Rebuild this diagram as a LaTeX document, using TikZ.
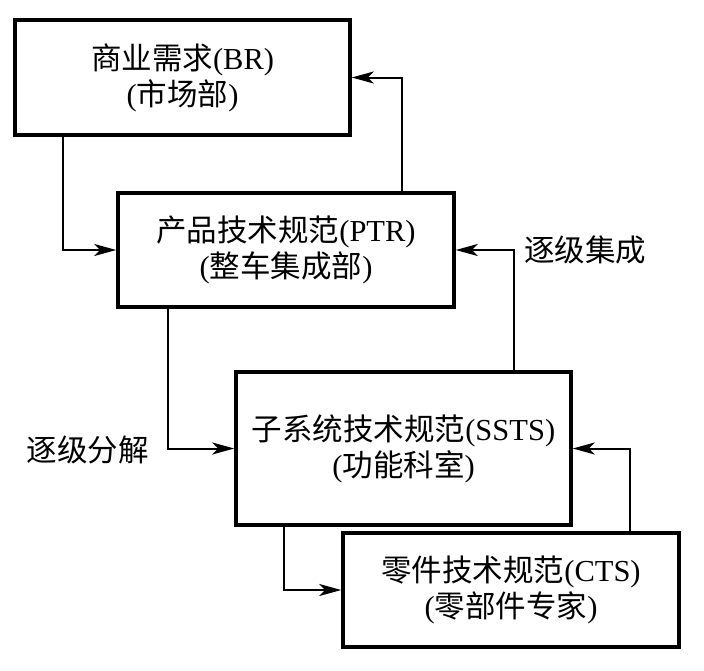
\documentclass[tikz,border=0pt]{standalone}
\usepackage{fontspec}
\setmainfont{Liberation Serif}
\newfontfamily\cjk{Noto Sans CJK SC}
\usetikzlibrary{arrows.meta}
\tikzset{
  box/.style={draw=black, line width=3.5pt, fill=white, minimum width=#1, align=center,
    font=\fontsize{30.5pt}{36pt}\selectfont, inner sep=0pt},
  conn/.style={line width=2pt, -{Stealth[length=22pt,width=12pt,inset=6pt]}},
  lbl/.style={font=\fontsize{30.5pt}{36pt}\selectfont, inner sep=0pt}
}
\begin{document}
\begin{tikzpicture}[x=1pt,y=-1pt]
\useasboundingbox (0,0) rectangle (704,670);
\node[box=335pt, minimum height=115pt] (BR) at (182.5,77.5) {{\cjk 商业需求}(BR)\\({\cjk 市场部})};
\node[box=336pt, minimum height=114pt] (PTR) at (286,250) {{\cjk 产品技术规范}(PTR)\\({\cjk 整车集成部})};
\node[box=335pt, minimum height=153pt] (SSTS) at (403.5,448.5) {{\cjk 子系统技术规范}(SSTS)\\({\cjk 功能科室})};
\node[box=336pt, minimum height=114pt] (CTS) at (511,590) {{\cjk 零件技术规范}(CTS)\\({\cjk 零部件专家})};
\node[lbl] (up) at (585,250) {\cjk 逐级集成};
\node[lbl] (down) at (88,450) {\cjk 逐级分解};
\draw[conn] ([xshift=50pt]BR.south west) |- (PTR.west);
\draw[conn] ([xshift=-54pt]PTR.north east) |- (BR.east);
\draw[conn] ([xshift=52pt]PTR.south west) |- (SSTS.west);
\draw[conn] ([xshift=-59pt]SSTS.north east) |- (PTR.east);
\draw[conn] ([xshift=50pt]SSTS.south west) |- (CTS.west);
\draw[conn] ([xshift=-51pt]CTS.north east) |- (SSTS.east);
\end{tikzpicture}
\end{document}
